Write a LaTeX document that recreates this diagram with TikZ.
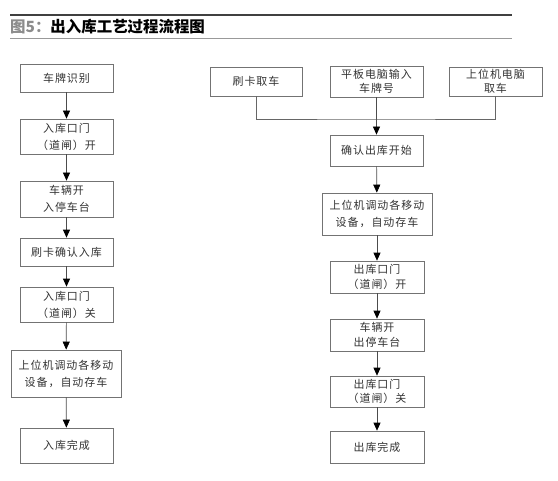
\documentclass[tikz,border=0pt]{standalone}
\usepackage{fontspec}
\setmainfont{Noto Sans CJK SC}
\usetikzlibrary{arrows.meta}

\begin{document}
\begin{tikzpicture}[x=1bp,y=-1bp,
    box/.style={draw=black!55,line width=0.7bp,fill=white,text=black!80,
        align=center,inner sep=0pt,minimum width=93bp,
        font=\fontsize{11}{17}\selectfont\addfontfeature{LetterSpace=9}},
    tight/.style={font=\fontsize{11}{14.5}\selectfont\addfontfeature{LetterSpace=9}},
    arr/.style={draw=black!70,line width=0.7bp,
        -{Triangle[width=7bp,length=8bp,color=black]}},
    lnk/.style={draw=black!60,line width=0.7bp}]
    \useasboundingbox (0,0) rectangle (558,481);

    % 标题
    \draw[black!75,line width=1.2bp] (10,15) -- (512,15);
    \draw[black!40,line width=0.8bp] (10,38) -- (512,38);
    \node[anchor=west,inner sep=0pt,font=\fontsize{15.5}{16}\selectfont\bfseries] (title) at (10,26.5)
        {\textcolor{black!45}{图5：}出入库工艺过程流程图};

    % 入库流程
    \node[box,minimum height=28bp] (I1) at (66.5,78) {车牌识别};
    \node[box,minimum height=35bp] (I2) at (66.5,136.5) {入库口门\\（道闸）开};
    \node[box,minimum height=36bp] (I3) at (66.5,199) {车辆开\\入停车台};
    \node[box,minimum height=28bp] (I4) at (66.5,252) {刷卡确认入库};
    \node[box,minimum height=35bp] (I5) at (66.5,304.5) {入库口门\\（道闸）关};
    \node[box,minimum height=47bp,minimum width=110bp] (I6) at (66,373.5) {上位机调动各移动\\设备，自动存车};
    \node[box,minimum height=35bp] (I7) at (66.5,445.5) {入库完成};

    \draw[arr] (I1) -- (I2);
    \draw[arr] (I2) -- (I3);
    \draw[arr] (I3) -- (I4);
    \draw[arr] (I4) -- (I5);
    \draw[arr] (I5) -- (I6);
    \draw[arr] (I6) -- (I7);

    % 出库流程
    \node[box,minimum height=29bp,minimum width=92bp] (A) at (256,81.5) {刷卡取车};
    \node[box,tight,minimum height=31bp] (B) at (376.5,81.5) {平板电脑输入\\车牌号};
    \node[box,tight,minimum height=29bp] (C) at (495.5,81.5) {上位机电脑\\取车};

    \node[box,minimum height=31bp] (O1) at (376.5,150.5) {确认出库开始};
    \node[box,minimum height=42bp,minimum width=110bp] (O2) at (377,214) {上位机调动各移动\\设备，自动存车};
    \node[box,tight,minimum height=32bp,minimum width=94bp] (O3) at (377,277) {出库口门\\（道闸）开};
    \node[box,tight,minimum height=32bp,minimum width=94bp] (O4) at (377,335) {车辆开\\出停车台};
    \node[box,tight,minimum height=31bp,minimum width=94bp] (O5) at (377,391.5) {出库口门\\（道闸）关};
    \node[box,minimum height=32bp,minimum width=94bp] (O6) at (377,447) {出库完成};

    % 汇合线
    \coordinate (J) at (B.south |- 0,119);
    \draw[lnk] (A.south) |- (J) -| (C.south);
    \draw[arr] (B.south) -- (O1.north);
    \draw[arr] (O1) -- (O2);
    \draw[arr] (O2) -- (O3);
    \draw[arr] (O3) -- (O4);
    \draw[arr] (O4) -- (O5);
    \draw[arr] (O5) -- (O6);
\end{tikzpicture}
\end{document}
